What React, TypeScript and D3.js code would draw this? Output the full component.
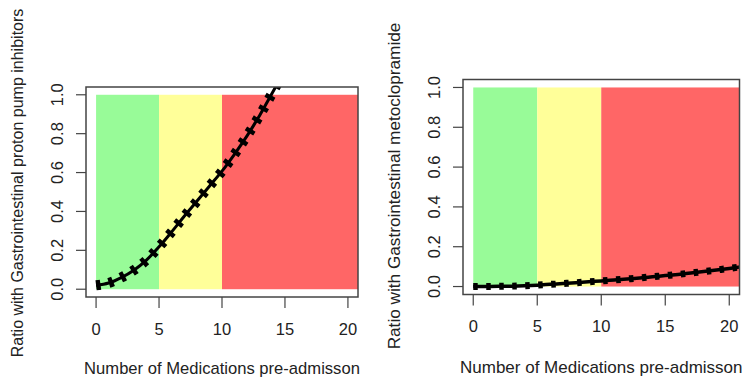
import React from "react";
import * as d3 from "d3";

// Number of medications taken before admission (x) and fitted ratios per panel
const medications = [0, 1, 2, 3, 4, 5, 6, 7, 8, 9, 10, 11, 12, 13, 14, 15, 16, 17, 18, 19, 20, 21];
const ppiRatio = [0.02, 0.032, 0.06, 0.098, 0.15, 0.218, 0.295, 0.375, 0.452, 0.53, 0.607, 0.695, 0.79, 0.895, 1.01, 1.13, 1.26, 1.4, 1.55, 1.71, 1.88, 2.06];
const metoclopramideRatio = [0.0, 0.0005, 0.001, 0.002, 0.004, 0.007, 0.011, 0.015, 0.019, 0.024, 0.028, 0.033, 0.038, 0.043, 0.049, 0.055, 0.061, 0.068, 0.075, 0.083, 0.091, 0.1];

// Risk bands: [from, to, colour]
const bandStarts = [0, 5, 10];
const bandEnds = [5, 10, 20.8];
const bandColors = ["#98FB98", "#FFFF99", "#FF6666"];

const xTicks = [0, 5, 10, 15, 20];
const yTicks = [0, 0.2, 0.4, 0.6, 0.8, 1.0];

const xTitle = "Number of Medications pre-admisson";

interface PanelProps {
  id: string;
  values: number[];
  yTitle: string;
  left: number;
  right: number;
  top: number;
  bottom: number;
  yTitleX: number;
  yTitleY: number;
  yTitleSize: number;
  xTitleSize: number;
  yLabelX: number;
  xLabelY: number;
  xTitleY: number;
  dotWidth: number;
  lineWidth: number;
}

function Panel(p: PanelProps) {
  const x = d3.scaleLinear().domain([-0.8, 20.8]).range([p.left, p.right]);
  const y = d3.scaleLinear().domain([-0.04, 1.04]).range([p.bottom, p.top]);
  const pts = medications.map((m, i) => [m, p.values[i]] as [number, number]);
  const line = d3
    .line<[number, number]>()
    .x((d) => x(d[0]))
    .y((d) => y(d[1]))
    .curve(d3.curveMonotoneX);
  const path = line(pts) || "";
  const font = "'Liberation Sans', Arial, Helvetica, sans-serif";
  const clipId = `clip-${p.id}`;
  return (
    <g>
      <defs>
        <clipPath id={clipId}>
          <rect x={p.left} y={p.top} width={p.right - p.left} height={p.bottom - p.top} />
        </clipPath>
      </defs>
      {bandStarts.map((s, i) => (
        <rect
          key={i}
          x={x(s)}
          y={y(1)}
          width={x(bandEnds[i]) - x(s)}
          height={y(0) - y(1)}
          fill={bandColors[i]}
        />
      ))}
      <g clipPath={`url(#${clipId})`}>
        <path d={path} fill="none" stroke="#000" strokeWidth={p.lineWidth} />
        <path
          d={path}
          fill="none"
          stroke="#000"
          strokeWidth={p.dotWidth}
          strokeDasharray="4.5 8.5"
        />
      </g>
      <rect
        x={p.left}
        y={p.top}
        width={p.right - p.left}
        height={p.bottom - p.top}
        fill="none"
        stroke="#444"
        strokeWidth={1.5}
      />
      {xTicks.map((t) => (
        <g key={`x${t}`}>
          <line x1={x(t)} x2={x(t)} y1={p.bottom} y2={p.bottom + 11} stroke="#444" strokeWidth={1.2} />
          <text
            x={x(t)}
            y={p.xLabelY}
            textAnchor="middle"
            dominantBaseline="central"
            fontFamily={font}
            fontSize={16.5}
            fill="#222"
          >
            {t}
          </text>
        </g>
      ))}
      {yTicks.map((t) => (
        <g key={`y${t}`}>
          <line x1={p.left} x2={p.left - 10} y1={y(t)} y2={y(t)} stroke="#444" strokeWidth={1.2} />
          <text
            transform={`translate(${p.yLabelX},${y(t)}) rotate(-90)`}
            textAnchor="middle"
            dominantBaseline="central"
            fontFamily={font}
            fontSize={16.5}
            fill="#222"
          >
            {t.toFixed(1)}
          </text>
        </g>
      ))}
      <text
        x={(p.left + p.right) / 2}
        y={p.xTitleY}
        textAnchor="middle"
        dominantBaseline="central"
        fontFamily={font}
        fontSize={p.xTitleSize}
        fill="#222"
      >
        {xTitle}
      </text>
      <text
        transform={`translate(${p.yTitleX},${p.yTitleY}) rotate(-90)`}
        textAnchor="middle"
        dominantBaseline="central"
        fontFamily={font}
        fontSize={p.yTitleSize}
        fill="#222"
      >
        {p.yTitle}
      </text>
    </g>
  );
}

export default function App() {
  return (
    <svg
      width={744}
      height={379}
      style={{ position: "absolute", left: 0, top: 0, background: "#fff" }}
    >
      <rect x={0} y={0} width={744} height={379} fill="#fff" />
      <Panel
        id="ppi"
        values={ppiRatio}
        yTitle="Ratio with Gastrointestinal proton pump inhibitors"
        left={86}
        right={358}
        top={87}
        bottom={297}
        yTitleX={17}
        yTitleY={183}
        yTitleSize={16}
        xTitleSize={16.6}
        yLabelX={57}
        xLabelY={329}
        xTitleY={368}
        dotWidth={10}
        lineWidth={3}
      />
      <Panel
        id="meto"
        values={metoclopramideRatio}
        yTitle="Ratio with Gastrointestinal metoclopramide"
        left={463}
        right={739.5}
        top={79.5}
        bottom={294.5}
        yTitleX={394}
        yTitleY={186}
        yTitleSize={17.2}
        xTitleSize={17}
        yLabelX={434}
        xLabelY={326}
        xTitleY={367}
        dotWidth={7}
        lineWidth={3.5}
      />
    </svg>
  );
}
